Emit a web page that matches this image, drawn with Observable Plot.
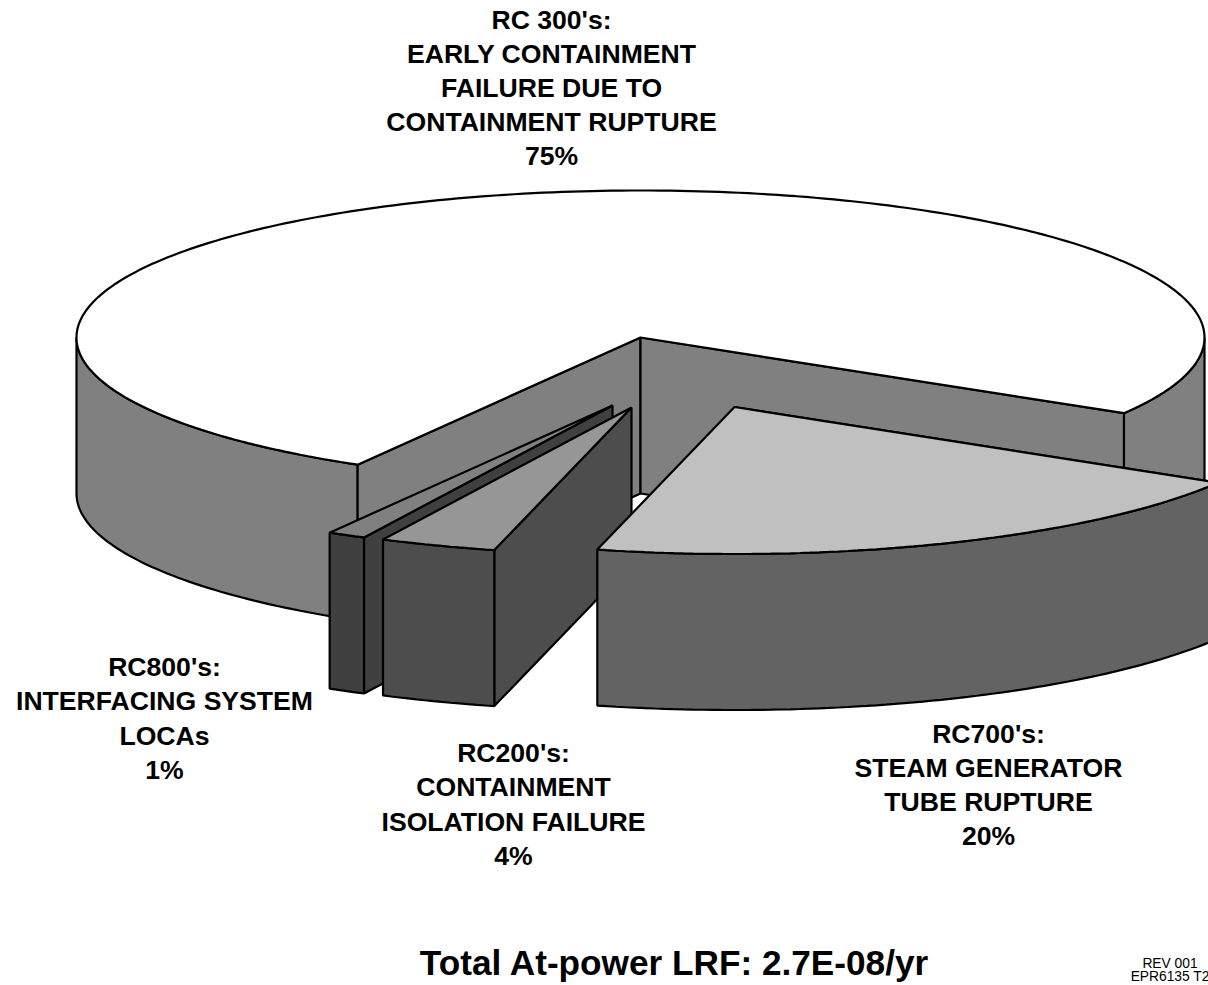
<!DOCTYPE html>
<html>
<head>
<meta charset="utf-8">
<script src="https://cdn.jsdelivr.net/npm/d3@7"></script>
<script src="https://cdn.jsdelivr.net/npm/@observablehq/plot@0.6"></script>
<style>
  html, body { margin: 0; padding: 0; background: #fff; overflow: hidden; }
  svg { display: block; overflow: hidden; }
</style>
</head>
<body>
<script>
// Values as labelled on the chart
const sliceNames = ["RC700's", "RC200's", "RC800's", "RC 300's"];
const labelledPercent = [20, 4, 1, 75];
// Sweep of each slice, in percent of the full turn
const drawnPercent = [20.3, 3.35, 1.1, 75.25];

const labelTexts = [
  "RC700's:\nSTEAM GENERATOR\nTUBE RUPTURE\n" + labelledPercent[0] + "%",
  "RC200's:\nCONTAINMENT\nISOLATION FAILURE\n" + labelledPercent[1] + "%",
  "RC800's:\nINTERFACING SYSTEM\nLOCAs\n" + labelledPercent[2] + "%",
  "RC 300's:\nEARLY CONTAINMENT\nFAILURE DUE TO\nCONTAINMENT RUPTURE\n" + labelledPercent[3] + "%"
];
const titleText = "Total At-power LRF: 2.7E-08/yr";
const stampText = "REV 001\nEPR6135 T2";

// Layout: pie geometry, shades and label anchors
const W = 1208, H = 985;
const pie = {cx: 640, cy: 337, rx: 564, ry: 147, depth: 156, startDeg: 31};
const explode = [[94, 69.5], [-9, 70], [-28, 68], [0, 0]];
const shades = [
  {top: "#c0c0c0", side: "#636363"},
  {top: "#969696", side: "#4d4d4d"},
  {top: "#808080", side: "#404040"},
  {top: "#ffffff", side: "#808080"}
];
const labelAnchors = [[988, 782.5], [513, 802], [164, 716], [551, 85.5]];

// Angles from the shares
const angles = [];
{
  let a = pie.startDeg;
  for (const p of drawnPercent) { angles.push([a, a + p * 3.6]); a += p * 3.6; }
}
const rim = (deg, ox, oy, dz = 0) => {
  const t = deg * Math.PI / 180;
  return {x: pie.cx + ox + pie.rx * Math.cos(t), y: pie.cy + oy + pie.ry * Math.sin(t) + dz};
};
const arc = (a0, a1, ox, oy, dz = 0) => {
  const n = Math.max(2, Math.ceil(Math.abs(a1 - a0)));
  return d3.range(n + 1).map(i => rim(a0 + (a1 - a0) * i / n, ox, oy, dz));
};
const wallBand = (a0, a1, ox, oy) =>
  [...arc(a0, a1, ox, oy), ...arc(a1, a0, ox, oy, pie.depth)];
const radialWall = (deg, ox, oy) => {
  const apex = {x: pie.cx + ox, y: pie.cy + oy};
  const r = rim(deg, ox, oy);
  return [apex, r, {x: r.x, y: r.y + pie.depth}, {x: apex.x, y: apex.y + pie.depth}];
};
const topFace = (a0, a1, ox, oy) =>
  [{x: pie.cx + ox, y: pie.cy + oy}, ...arc(a0, a1, ox, oy)];

// Faces, painted back to front
const faces = [];
const face = (pts, fill) => faces.push({pts, fill});

// Main slice (index 3) with the wedge cut out of it
{
  const [a0, a1] = angles[3];
  const s = shades[3];
  face(wallBand(a0, 180, 0, 0), s.side);            // left outer wall
  face(wallBand(360, a1, 0, 0), s.side);            // right outer wall
  face(radialWall(a0, 0, 0), s.side);               // left wall of the cut
  face(radialWall(a1 - 360, 0, 0), s.side);         // right wall of the cut
  face(topFace(a0, a1, 0, 0), s.top);
}
// Exploded slices
for (const i of [2, 1, 0]) {
  const [a0, a1] = angles[i];
  const [ox, oy] = explode[i];
  const s = shades[i];
  face(radialWall(a0, ox, oy), s.side);
  face(wallBand(a0, a1, ox, oy), s.side);
  face(topFace(a0, a1, ox, oy), s.top);
}

const labels = labelTexts.map((text, i) => ({
  name: sliceNames[i], text, x: labelAnchors[i][0], y: labelAnchors[i][1]
}));

const chart = Plot.plot({
  width: W,
  height: H,
  margin: 0,
  style: {background: "#fff", fontFamily: "'Liberation Sans', Arial, sans-serif"},
  x: {domain: [0, W], range: [0, W], axis: null},
  y: {domain: [0, H], range: [0, H], axis: null},
  marks: [
    ...faces.map(f => Plot.line(f.pts, {
      x: "x", y: "y", fill: f.fill, stroke: "#000", strokeWidth: 2.2,
      strokeLinejoin: "miter", curve: "linear-closed"
    })),
    Plot.text(labels, {
      x: "x", y: "y", text: "text", fontSize: 26.6, fontWeight: "bold",
      lineHeight: 1.286, fill: "#000", textAnchor: "middle", lineAnchor: "middle"
    }),
    Plot.text([titleText], {
      x: () => 673.5, y: () => 963, text: d => d, fontSize: 35.2, fontWeight: "bold",
      fill: "#000", textAnchor: "middle", lineAnchor: "middle"
    }),
    Plot.text([stampText], {
      x: () => 1169.5, y: () => 970, text: d => d, fontSize: 13.8, lineHeight: 0.96,
      fill: "#000", textAnchor: "middle", lineAnchor: "middle"
    })
  ]
});
document.body.appendChild(chart);
</script>
</body>
</html>
